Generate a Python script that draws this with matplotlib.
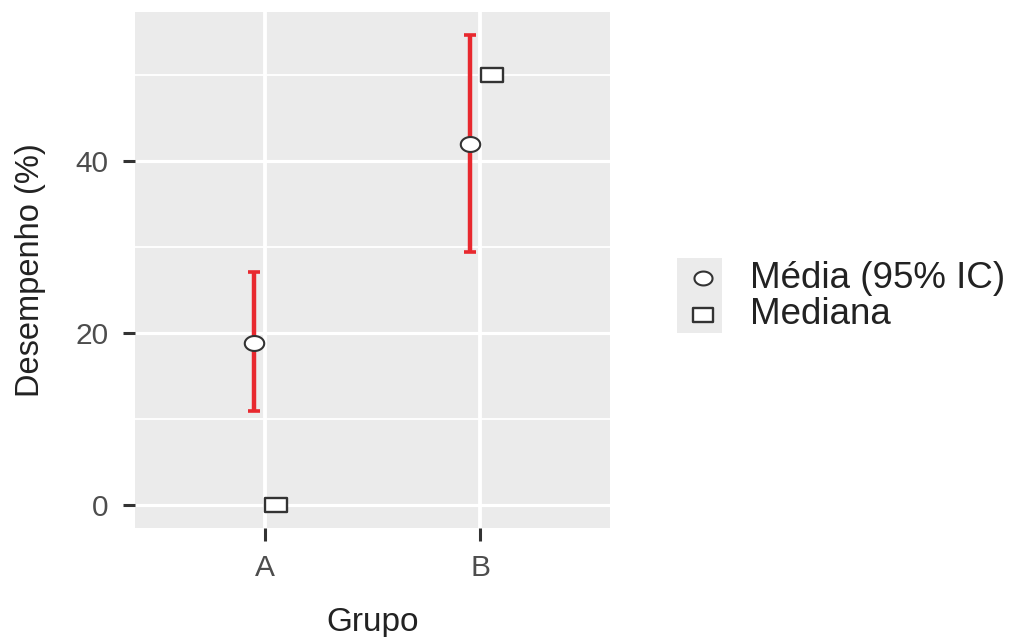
import numpy as np
import matplotlib
matplotlib.use("Agg")
import matplotlib.pyplot as plt
from matplotlib.path import Path
from matplotlib.patches import Rectangle

plt.rcParams['font.family'] = ['Liberation Sans', 'DejaVu Sans']

# data
grupos = ['A', 'B']
media = [18.8, 41.9]
ic_inf = [10.9, 29.4]
ic_sup = [27.1, 54.6]
mediana = [0.0, 50.0]
legenda = ['Média (95% IC)', 'Mediana']

# the reference is stretched sideways, so markers are a bit wide
t = np.linspace(0, 2 * np.pi, 60)
oval = Path(np.column_stack([1.3 * np.cos(t), np.sin(t)]), closed=True)
box = Path([(-1.6, -1), (1.6, -1), (1.6, 1), (-1.6, 1), (-1.6, -1)], closed=True)

fig = plt.figure(figsize=(10.32, 6.37), dpi=100)
ax = fig.add_axes([135 / 1032, 1 - 528 / 637, 475 / 1032, 516 / 637])
ax.set_facecolor('#EBEBEB')

x = np.arange(1, len(grupos) + 1)
red = '#E8282E'
err = [np.array(media) - np.array(ic_inf), np.array(ic_sup) - np.array(media)]
ax.errorbar(x - 0.05, media, yerr=err, fmt='none', ecolor=red, elinewidth=3.2,
            capsize=4, capthick=2.6, zorder=3)
ax.plot(x - 0.05, media, linestyle='none', marker=oval, markersize=14,
        markerfacecolor='white', markeredgecolor='#333333', markeredgewidth=1.5, zorder=4)
ax.plot(x + 0.055, mediana, linestyle='none', marker=box, markersize=15.5,
        markerfacecolor='white', markeredgecolor='#333333', markeredgewidth=1.7, zorder=4)

ax.set_xlim(0.4, 2.6)
ax.set_ylim(-2.73, 57.3)
ax.set_xticks(x)
ax.set_xticklabels(grupos)
ax.set_yticks([0, 20, 40])
ax.set_yticks([10, 30, 50], minor=True)
ax.grid(which='major', axis='x', color='white', linewidth=2.8)
ax.grid(which='major', axis='y', color='white', linewidth=2.3)
ax.grid(which='minor', axis='y', color='white', linewidth=1.3)
ax.set_axisbelow(True)
for s in ax.spines.values():
    s.set_visible(False)
ax.tick_params(axis='both', which='major', length=9, width=2.2, color='#333333',
               labelsize=21.5, labelcolor='#4D4D4D', pad=10)
ax.tick_params(axis='y', which='minor', length=0)
ax.set_xlabel('Grupo', fontsize=24, color='#222222', labelpad=18)
ax.set_ylabel('Desempenho (%)', fontsize=23.5, color='#222222', labelpad=21)

# legend drawn by hand, grey key box like ggplot
lax = fig.add_axes([677 / 1032, 1 - 333 / 637, 355 / 1032, 75 / 637])
lax.set_xlim(0, 355)
lax.set_ylim(0, 75)
lax.axis('off')
lax.add_patch(Rectangle((0, 0), 45, 75, facecolor='#EBEBEB', edgecolor='none'))
lax.plot([26], [55], marker=oval, markersize=13, linestyle='none',
         markerfacecolor='white', markeredgecolor='#333333', markeredgewidth=1.5)
lax.plot([26], [18], marker=box, markersize=15, linestyle='none',
         markerfacecolor='white', markeredgecolor='#333333', markeredgewidth=1.7)
lax.text(73, 55, legenda[0], fontsize=26.5, va='center', ha='left', color='#222222')
lax.text(73, 18, legenda[1], fontsize=26.5, va='center', ha='left', color='#222222')

fig.savefig('out.png', dpi=100)
